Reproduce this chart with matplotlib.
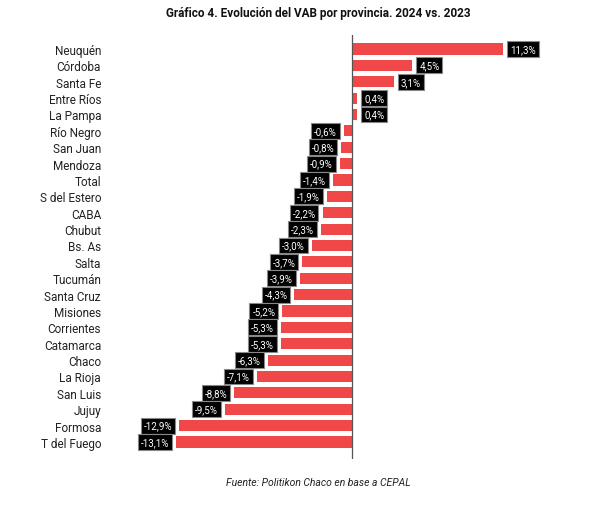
import matplotlib
matplotlib.use("Agg")
import matplotlib.pyplot as plt

provincias = [
    "Neuquén", "Córdoba", "Santa Fe", "Entre Ríos", "La Pampa", "Río Negro",
    "San Juan", "Mendoza", "Total", "S del Estero", "CABA", "Chubut", "Bs. As",
    "Salta", "Tucumán", "Santa Cruz", "Misiones", "Corrientes", "Catamarca",
    "Chaco", "La Rioja", "San Luis", "Jujuy", "Formosa", "T del Fuego",
]
variacion = [
    11.3, 4.5, 3.1, 0.4, 0.4, -0.6, -0.8, -0.9, -1.4, -1.9, -2.2, -2.3, -3.0,
    -3.7, -3.9, -4.3, -5.2, -5.3, -5.3, -6.3, -7.1, -8.8, -9.5, -12.9, -13.1,
]

plt.rcParams["font.family"] = ["Roboto", "DejaVu Sans"]

W, H = 614, 510
fig = plt.figure(figsize=(W / 100, H / 100), dpi=100)
fig.patch.set_facecolor("white")

n = len(provincias)
top_px, bottom_px = 36, 460
left_px, right_px = 108, 600
ax = fig.add_axes([left_px / W, 1 - bottom_px / H, (right_px - left_px) / W, (bottom_px - top_px) / H])

y = list(range(n))
bar_color = "#F04848"
ax.barh(y, variacion, height=0.68, color=bar_color, zorder=2)

spacing = (443 - 50) / (n - 1)
ax.set_ylim(n - 1 + 17 / spacing, -14 / spacing)
ax.set_xlim(-(352 - left_px) / 13.4, (right_px - 352) / 13.4)
ax.axvline(0, color="#555555", linewidth=0.9, zorder=3)

ax.set_yticks(y)
ax.set_yticklabels(provincias, fontsize=8.5, color="#222222")
ax.tick_params(axis="y", length=0, pad=5)
ax.set_xticks([])
for side in ("top", "right", "bottom", "left"):
    ax.spines[side].set_visible(False)

for yi, v in zip(y, variacion):
    label = f"{v:.1f}%".replace(".", ",")
    offset = 5 if v >= 0 else -5
    ax.annotate(
        label,
        xy=(v, yi),
        xytext=(offset, 0),
        textcoords="offset points",
        ha="left" if v >= 0 else "right",
        va="center",
        fontsize=7,
        color="white",
        bbox=dict(boxstyle="square,pad=0.3", facecolor="black", edgecolor="#888888", linewidth=0.8),
        zorder=4,
    )

fig.text(318 / W, 1 - 14 / H, "Gráfico 4. Evolución del VAB por provincia. 2024 vs. 2023",
         ha="center", va="center", fontsize=8.5, fontweight="bold", color="#111111")
fig.text(318 / W, 1 - 483 / H, "Fuente: Politikon Chaco en base a CEPAL",
         ha="center", va="center", fontsize=7.5, style="italic", color="#222222")

fig.savefig("out.png", dpi=100)
